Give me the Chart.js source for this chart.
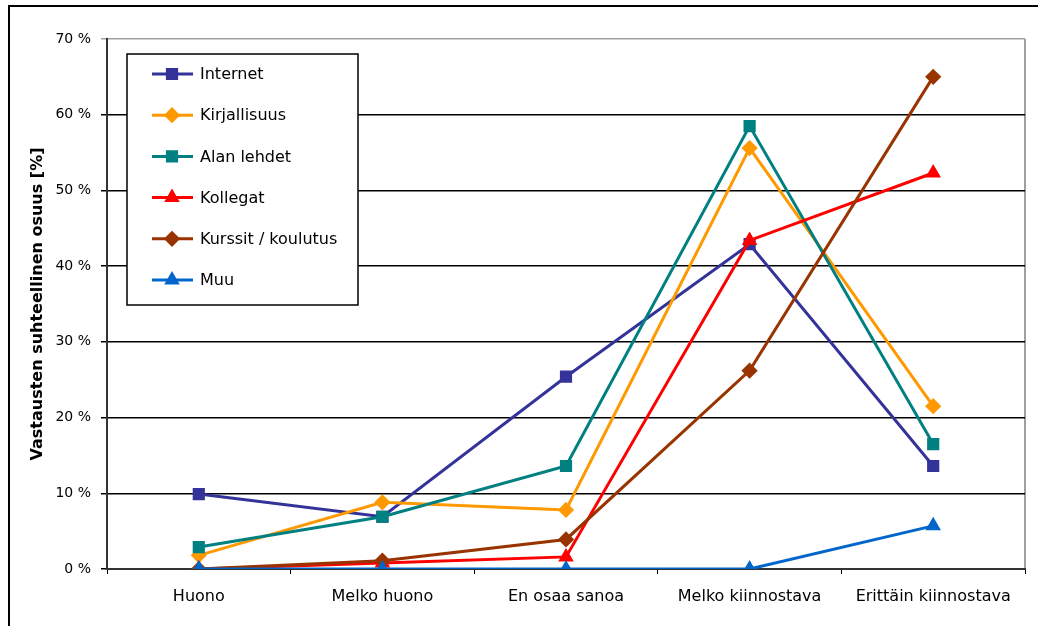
<!DOCTYPE html>
<html>
<head>
<meta charset="utf-8">
<script src="https://cdn.jsdelivr.net/npm/chart.js@4"></script>
<style>
  html, body { margin: 0; padding: 0; background: #fff; }
  #wrap { width: 1038px; height: 626px; }
</style>
</head>
<body>
<div id="wrap"><canvas id="chart" width="1038" height="626"></canvas></div>
<script>
const categories = ["Huono", "Melko huono", "En osaa sanoa", "Melko kiinnostava", "Erittäin kiinnostava"];

const internet     = [9.9, 6.9, 25.4, 42.9, 13.6];
const kirjallisuus = [1.8, 8.8, 7.8, 55.6, 21.5];
const alanLehdet   = [2.9, 6.9, 13.6, 58.5, 16.5];
const kollegat     = [0, 0.8, 1.6, 43.4, 52.3];
const kurssit      = [0, 1.1, 3.9, 26.2, 65.0];
const muu          = [0, 0, 0, 0, 5.7];

const yTicks = [0, 10, 20, 30, 40, 50, 60, 70];

const FONT = "'DejaVu Sans', Verdana, sans-serif";

const series = [
  { label: "Internet",           data: internet,     color: "#333399", point: "rect",     radius: 6.5 },
  { label: "Kirjallisuus",       data: kirjallisuus, color: "#FF9900", point: "rectRot",  radius: 6 },
  { label: "Alan lehdet",        data: alanLehdet,   color: "#008080", point: "rect",     radius: 6.5 },
  { label: "Kollegat",           data: kollegat,     color: "#FF0000", point: "triangle", radius: 6 },
  { label: "Kurssit / koulutus", data: kurssit,      color: "#993300", point: "rectRot",  radius: 6 },
  { label: "Muu",                data: muu,          color: "#0066CC", point: "triangle", radius: 6 }
];

// frame, plot border and the legend box drawn inside the plot
const frame = {
  id: "frame",
  beforeDraw(chart) {
    const c = chart.ctx;
    c.save();
    c.fillStyle = "#fff";
    c.fillRect(0, 0, chart.width, chart.height);
    c.strokeStyle = "#000";
    c.lineWidth = 2;
    c.beginPath();
    c.moveTo(9, 626);
    c.lineTo(9, 6);
    c.lineTo(1038, 6);
    c.stroke();
    const a = chart.chartArea;
    c.strokeStyle = "#a0a0a0";
    c.lineWidth = 2;
    c.beginPath();
    c.moveTo(a.right, a.top);
    c.lineTo(a.right, a.bottom);
    c.stroke();
    c.restore();
  },
  afterDraw(chart) {
    const c = chart.ctx;
    const x0 = 127, y0 = 54, w = 231, h = 251;
    c.save();
    c.fillStyle = "#fff";
    c.fillRect(x0, y0, w, h);
    c.strokeStyle = "#000";
    c.lineWidth = 1.5;
    c.strokeRect(x0, y0, w, h);
    c.font = "16px " + FONT;
    c.textBaseline = "middle";
    chart.data.datasets.forEach((ds, i) => {
      const y = 74 + i * 41.2;
      c.strokeStyle = ds.borderColor;
      c.lineWidth = 3;
      c.beginPath();
      c.moveTo(152, y);
      c.lineTo(193, y);
      c.stroke();
      Chart.helpers.drawPoint(c, { pointStyle: ds.pointStyle, radius: ds.pointRadius, rotation: 0, borderWidth: 1 }, 172, y);
      c.fillStyle = ds.borderColor;
      c.fill();
      c.fillStyle = "#000";
      c.fillText(ds.label, 200, y + 1);
    });
    c.restore();
  }
};

new Chart(document.getElementById("chart"), {
  type: "line",
  data: {
    labels: categories,
    datasets: series.map((s, i) => ({
      label: s.label,
      data: s.data,
      borderColor: s.color,
      backgroundColor: s.color,
      pointBackgroundColor: s.color,
      pointBorderColor: s.color,
      pointStyle: s.point,
      pointRadius: s.radius,
      borderWidth: 3,
      tension: 0,
      order: series.length - i
    }))
  },
  options: {
    responsive: false,
    animation: false,
    events: [],
    layout: { padding: { left: 0, top: 39, right: 13, bottom: 0 } },
    plugins: { legend: { display: false }, tooltip: { enabled: false } },
    scales: {
      x: {
        offset: true,
        grid: { drawOnChartArea: false, drawTicks: true, tickLength: 5, color: "#000", offset: true },
        border: { color: "#333", width: 2 },
        ticks: { color: "#000", font: { family: FONT, size: 16 }, padding: 13, maxRotation: 0, autoSkip: false },
        afterFit(scale) { scale.height = 57; }
      },
      y: {
        min: 0,
        max: 70,
        afterBuildTicks(scale) { scale.ticks = yTicks.map(v => ({ value: v })); },
        grid: {
          color: ctx => (ctx.tick && ctx.tick.value === 70 ? "#a0a0a0" : "#000"),
          lineWidth: 1.5,
          tickLength: 6,
          drawTicks: true
        },
        border: { color: "#333", width: 2 },
        ticks: {
          color: "#000",
          font: { family: FONT, size: 14 },
          padding: 10,
          callback: v => v + " %"
        },
        title: {
          display: true,
          text: "Vastausten suhteellinen osuus [%]",
          color: "#000",
          font: { family: FONT, size: 16, weight: "bold" },
          padding: { top: 28, bottom: 0 }
        },
        afterFit(scale) { scale.width = 107; }
      }
    }
  },
  plugins: [frame]
});
</script>
</body>
</html>
